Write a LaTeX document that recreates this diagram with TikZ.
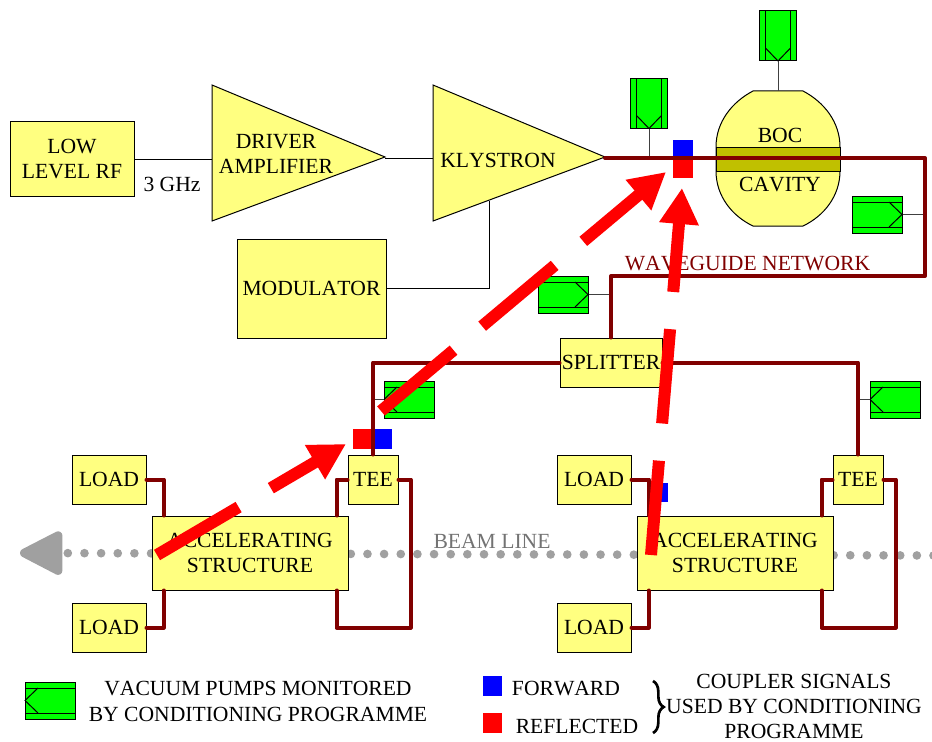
\documentclass[tikz,border=0pt]{standalone}
\usepackage{fontspec}
\setmainfont[Kerning=Off]{Liberation Serif}
\usetikzlibrary{arrows.meta, positioning, calc, decorations.pathreplacing}
\definecolor{boxyellow}{HTML}{FFFF80}
\definecolor{beltolive}{HTML}{C0C000}
\definecolor{guidered}{HTML}{800000}
\definecolor{pumpgreen}{HTML}{00FF00}
\definecolor{beamgray}{HTML}{A0A0A0}

\begin{document}
\begin{tikzpicture}[
  x=0.75pt, y=-0.75pt,
  font=\fontsize{16.2pt}{18.75pt}\selectfont,
  box/.style={rectangle, draw, fill=boxyellow, line width=0.75pt, inner sep=0pt, align=center},
  loadbox/.style={box, minimum width=55.5pt, minimum height=36.75pt},
  teebox/.style={box, minimum width=37.5pt, minimum height=36.75pt},
  accbox/.style={box, minimum width=147pt, minimum height=55.5pt},
  ampbox/.style={draw, fill=boxyellow, line width=0.75pt},
  pumpbox/.style={rectangle, draw, fill=pumpgreen, line width=0.75pt, inner sep=0pt, minimum width=37.5pt, minimum height=27.75pt},
  pumpline/.style={line width=0.75pt},
  stem/.style={line width=0.75pt, black!75},
  signal/.style={line width=0.75pt},
  guide/.style={draw=guidered, line width=3pt, line cap=round, line join=round},
  beam/.style={beamgray, line width=6.5pt, line cap=round, dash pattern=on 0pt off 12.486pt, -{Triangle[round, length=36pt, width=35pt]}},
  coupler/.style={red, line width=9pt, dash pattern=on 71pt off 28pt, -{Triangle[length=27pt, width=28pt]}},
  labeltext/.style={inner sep=0pt, align=center},
  fwd/.style={rectangle, fill=blue, inner sep=0pt, minimum width=14.5pt, minimum height=14.5pt},
  rfl/.style={rectangle, fill=red, inner sep=0pt, minimum width=14.5pt, minimum height=14.5pt}
]
  \useasboundingbox (0,0) rectangle (932,742);

  \coordinate (beamR) at (933.5,555.5);
  \coordinate (beamL) at (20,553);
  \draw[beam] (beamR) -- (beamL);
  \node[labeltext, text=black!55] (BL) at (492,541.5) {BEAM LINE};

  \node[box, minimum width=93pt, minimum height=55.5pt] (LRF) at (72,159) {LOW\\LEVEL RF};
  \node[box, minimum width=111.75pt, minimum height=74.25pt] (MOD) at (311.5,288.5) {MODULATOR};

  \draw[ampbox] (212,85) -- (212,221) -- (385,157) -- cycle;
  \draw[ampbox] (433,85) -- (433,221) -- (605,157) -- cycle;
  \node[labeltext] (DRV) at (276,153.5) {DRIVER\\AMPLIFIER};
  \node[labeltext] (KLY) at (498,160) {KLYSTRON};
  \coordinate (DRVin) at (212,158);
  \coordinate (DRVout) at (385,158);
  \coordinate (KLYin) at (433,158);
  \coordinate (KLYout) at (605,158);
  \coordinate (KLYbot) at (489,201);

  \draw[signal] (LRF.east) -- (LRF.east -| DRVin);
  \draw[signal] (DRVout) -- (KLYin);
  \draw[signal] (MOD.east) -| (KLYbot);
  \node[labeltext] (GHZ) at (172,184.5) {3 GHz};

  \draw[ampbox, fill=boxyellow] (716,147) .. controls (716,122) and (732,102) .. (753,91) -- (803,91) .. controls (824,102) and (840,122) .. (840,147) -- (840,171) .. controls (840,196) and (824,216) .. (803,226) -- (753,226) .. controls (732,216) and (716,196) .. (716,171) -- cycle;
  \node[rectangle, draw, fill=beltolive, line width=0.75pt, inner sep=0pt, minimum width=93pt, minimum height=18pt] (BELT) at (778,159) {};
  \node[labeltext] (BOC) at (780,135) {BOC};
  \node[labeltext] (CAV) at (780,185) {CAVITY};
  \coordinate (CAVtop) at (778,91);

  \foreach \name/\px/\py/\ang in {P1/649/103.5/-90, P2/778/36/-90, P3/877/214.5/0, P4/563/294.5/0, P5/409/399.5/180, P6/895/399.5/180, P7/50/700.5/180}{
    \node[pumpbox, rotate=\ang] (\name) at (\px,\py) {};
    \begin{scope}[shift={(\name.center)}, rotate=\ang]
      \draw[pumpline] (-25,-12.5) -- (25,-12.5);
      \draw[pumpline] (-25,12.5) -- (25,12.5);
      \draw[pumpline] (12,-12.5) -- (25,0) -- (12,12.5);
    \end{scope}
  }

  \node[fwd] (F1) at (683,149.5) {};
  \node[rfl] (R1) at (683,168.5) {};
  \node[rfl] (R2) at (363,439) {};
  \node[fwd] (F2) at (382.5,439) {};
  \node[fwd] (F3) at (658.5,492.5) {};

  \foreach \i/\dx in {1/0, 2/485}{
    \node[loadbox] (LA\i) at ({109+\dx},479.5) {LOAD};
    \node[loadbox] (LB\i) at ({109+\dx},627.5) {LOAD};
    \node[teebox] (TE\i) at ({373+\dx},479.5) {TEE};
    \node[accbox] (AS\i) at ({250+\dx},553) {ACCELERATING\\STRUCTURE};
  }

  \node[box, minimum width=76.5pt, minimum height=36.75pt] (SP) at (611,362.5) {SPLITTER};

  \coordinate (GUa) at (925,158);
  \coordinate (GUb) at (925,276);
  \draw[stem] (P1.east) -- (P1.east |- KLYout);
  \draw[stem] (P2.east) -- (CAVtop);
  \draw[stem] (P3.east) -- (P3.east -| GUa);
  \draw[stem] (P4.east) -- (P4.east -| SP.north);
  \draw[stem] (P5.east) -- (P5.east -| TE1.north);
  \draw[stem] (P6.east) -- (P6.east -| TE2.north);

  \draw[guide] (KLYout) -- (GUa) -- (GUb) -| (SP.north);
  \draw[guide] (SP.west) -| (TE1.north);
  \draw[guide] (SP.east) -| (TE2.north);
  \foreach \i in {1,2}{
    \draw[guide] (LA\i.east) -| ([xshift=9pt]AS\i.north west);
    \draw[guide] (LB\i.east) -| ([xshift=9pt]AS\i.south west);
    \draw[guide] (TE\i.west) -| ([xshift=-9pt]AS\i.north east);
    \draw[guide] (TE\i.east) -- ++(12,0) -- ++(0,148) -| ([xshift=-9pt]AS\i.south east);
  }

  \node[labeltext, text=guidered] (WG) at (747.5,264) {WAVEGUIDE NETWORK};

  \coordinate (A1) at (157,555);
  \coordinate (B1) at (346,444);
  \coordinate (A2) at (381,411);
  \coordinate (B2) at (666,172);
  \coordinate (A3) at (651,555);
  \coordinate (B3) at (682,188);
  \foreach \from/\to in {A1/B1, A2/B2, A3/B3}{
    \draw[coupler] (\from) -- (\to);
  }

  \node[labeltext] (PT) at (258,701.5) {VACUUM PUMPS MONITORED\\[0.9pt]BY CONDITIONING PROGRAMME};
  \node[fwd] (F4) at (492.5,686) {};
  \node[rfl] (R4) at (492.5,723) {};
  \node[labeltext] (FT) at (566,689) {FORWARD};
  \node[labeltext] (RT) at (577,726) {REFLECTED};
  \coordinate (BRa) at (653,681);
  \coordinate (BRb) at (653,733);
  \draw[line width=2pt, decorate, decoration={brace, amplitude=8pt}] (BRa) -- (BRb);
  \node[labeltext] (CT) at (794,706.5) {COUPLER SIGNALS\\USED BY CONDITIONING\\PROGRAMME};
\end{tikzpicture}
\end{document}
